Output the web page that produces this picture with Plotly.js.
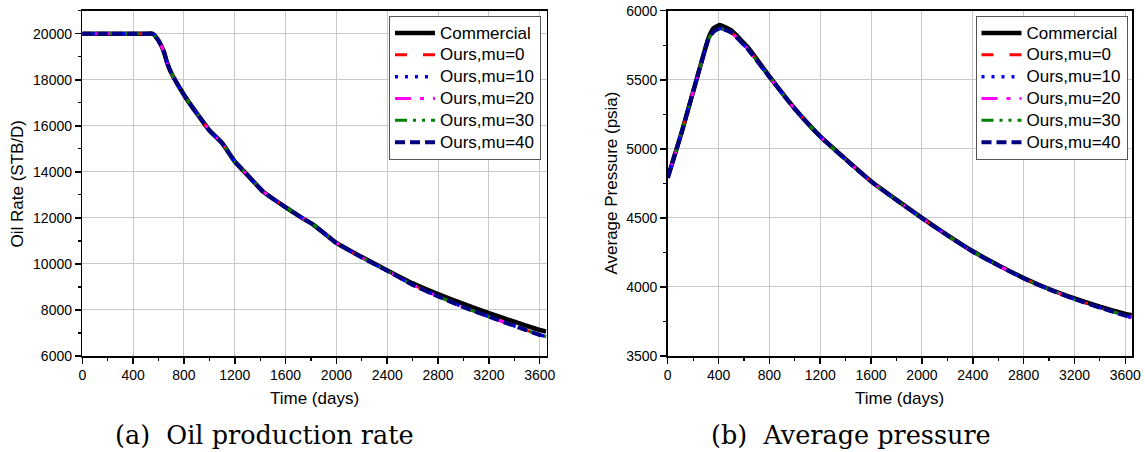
<!DOCTYPE html>
<html>
<head>
<meta charset="utf-8">
<script src="https://cdn.plot.ly/plotly-3.0.1.min.js"></script>
<style>html,body{margin:0;padding:0;background:#fff;}#chart{width:1145px;height:452px;}</style>
</head>
<body>
<div id="chart"></div>
<script>
// ---- Data ----
const rateDays = [0, 100, 200, 300, 400, 500, 555, 600, 640, 670, 700, 750, 835, 920, 1000, 1100, 1200, 1310, 1425, 1595, 1735, 1820, 1990, 2180, 2400, 2600, 2800, 3000, 3200, 3400, 3600, 3650];
const rateCommercial = [20000, 20000, 20000, 20000, 20000, 20000, 20000, 19700, 19250, 18700, 18300, 17800, 17050, 16400, 15800, 15250, 14450, 13800, 13130, 12480, 11980, 11700, 10950, 10360, 9720, 9160, 8690, 8260, 7860, 7490, 7130, 7060];
const rateOurs = [20000, 20000, 20000, 20000, 20000, 20000, 20000, 19700, 19250, 18700, 18300, 17800, 17050, 16400, 15800, 15250, 14450, 13800, 13130, 12480, 11980, 11700, 10950, 10340, 9700, 9090, 8590, 8120, 7710, 7310, 6915, 6840];

const presDays = [0, 110, 240, 320, 360, 410, 500, 630, 800, 1000, 1200, 1400, 1600, 1800, 2000, 2200, 2400, 2600, 2800, 3000, 3200, 3400, 3600, 3650];
const presCommercial = [4790, 5120, 5545, 5800, 5872, 5897, 5857, 5735, 5524, 5290, 5090, 4925, 4765, 4630, 4500, 4375, 4258, 4158, 4065, 3985, 3917, 3857, 3805, 3795];
const presOurs = [4790, 5120, 5545, 5792, 5848, 5872, 5842, 5722, 5520, 5288, 5088, 4922, 4763, 4628, 4498, 4373, 4255, 4155, 4062, 3982, 3912, 3850, 3792, 3778];

const seriesNames = ["Commercial", "Ours,mu=0", "Ours,mu=10", "Ours,mu=20", "Ours,mu=30", "Ours,mu=40"];
const seriesColors = ["#000000", "#ff0000", "#0000ff", "#ff00ff", "#008000", "#000080"];
const seriesDash = ["solid", "12px,16px", "3px,7px", "16px,9px,4px,9px", "12px,6px,3px,6px,3px,6px", "10px,5px"];
const seriesWidth = [4.5, 3, 3.5, 3, 3, 4];
const drawOrder = [0, 1, 3, 4, 2, 5];   // navy on top, blue beneath it, as in the reference

const xTickLabels = ["0","400","800","1200","1600","2000","2400","2800","3200","3600"];

// ---- Build traces ----
const W = 1145, H = 452;
const traces = [];
function addSet(xs, commercial, ours, xa, ya, legendId) {
  drawOrder.forEach(i => {
    traces.push({
      x: xs, y: i === 0 ? commercial : ours,
      type: 'scatter', mode: 'lines',
      name: '<span style="font-size:17px">' + seriesNames[i] + '</span>',
      legendrank: 100 + i,
      xaxis: xa, yaxis: ya, legend: legendId,
      line: {color: seriesColors[i], width: seriesWidth[i], dash: seriesDash[i], shape: 'spline', smoothing: 0.4},
      hoverinfo: 'skip'
    });
  });
}
addSet(rateDays, rateCommercial, rateOurs, 'x', 'y', 'legend');
addSet(presDays, presCommercial, presOurs, 'x2', 'y2', 'legend2');

const font = "Liberation Sans, Arial, sans-serif";
const tickVals = xTickLabels.map(Number);
function xAxis(domain) {
  return {
    domain: domain, range: [0, 3655], tickmode: 'array', tickvals: tickVals, ticktext: xTickLabels,
    ticks: 'outside', ticklen: 6, tickwidth: 1.5, tickcolor: '#000',
    minor: {dtick: 200, tick0: 0, ticks: 'outside', ticklen: 3, tickwidth: 1.2, tickcolor: '#000', showgrid: false},
    showgrid: true, gridcolor: '#c8c8c8', gridwidth: 1,
    showline: true, linecolor: '#000', linewidth: 1.5, mirror: true, zeroline: false,
    tickfont: {family: font, size: 14, color: '#000'}, fixedrange: true
  };
}
function yAxis(range, dtick, minorDtick, anchor) {
  return {
    domain: [1 - 356/H, 1 - 10.7/H], range: range, tick0: range[0], dtick: dtick, anchor: anchor,
    tickformat: 'd',
    ticks: 'outside', ticklen: 6, tickwidth: 1.5, tickcolor: '#000',
    minor: {dtick: minorDtick, ticks: 'outside', ticklen: 3, tickwidth: 1.2, tickcolor: '#000', showgrid: false},
    showgrid: true, gridcolor: '#c8c8c8', gridwidth: 1,
    showline: true, linecolor: '#000', linewidth: 1.5, mirror: true, zeroline: false,
    tickfont: {family: font, size: 14, color: '#000'}, fixedrange: true
  };
}

const xa1 = xAxis([82.3/W, 546.7/W]); xa1.anchor = 'y';
const xa2 = xAxis([667.7/W, 1132.3/W]); xa2.anchor = 'y2';

const legendCommon = {
  bgcolor: '#ffffff', bordercolor: '#555', borderwidth: 1,
  font: {family: font, size: 14.5, color: '#000'},
  xanchor: 'right', yanchor: 'top', y: 1 - 16/H, tracegroupgap: 0, itemwidth: 40,
  traceorder: 'normal'
};

const annFont = {family: font, size: 17, color: '#000'};
const capFont = {family: "DejaVu Serif, serif", size: 25.5, color: '#000'};
const layout = {
  width: W, height: H, autosize: false,
  margin: {l: 0, r: 0, t: 0, b: 0},
  paper_bgcolor: '#fff', plot_bgcolor: '#fff',
  showlegend: true,
  xaxis: xa1, yaxis: yAxis([6000, 21000], 2000, 1000, 'x'),
  xaxis2: xa2, yaxis2: yAxis([3500, 6000], 500, 250, 'x2'),
  legend: Object.assign({x: 541/W}, legendCommon),
  legend2: Object.assign({x: 1127.5/W}, legendCommon),
  annotations: [
    {text: 'Time (days)', x: 314.5/W, y: 1 - 398/H, xref: 'paper', yref: 'paper', xanchor: 'center', yanchor: 'middle', showarrow: false, font: annFont},
    {text: 'Time (days)', x: 900/W, y: 1 - 398/H, xref: 'paper', yref: 'paper', xanchor: 'center', yanchor: 'middle', showarrow: false, font: annFont},
    {text: 'Oil Rate (STB/D)', x: 17/W, y: 1 - 183.5/H, xref: 'paper', yref: 'paper', xanchor: 'center', yanchor: 'middle', textangle: -90, showarrow: false, font: annFont},
    {text: 'Average Pressure (psia)', x: 611/W, y: 1 - 183.5/H, xref: 'paper', yref: 'paper', xanchor: 'center', yanchor: 'middle', textangle: -90, showarrow: false, font: annFont},
    {text: '(a)\u00a0\u00a0Oil production rate', x: 264/W, y: 0.002, xref: 'paper', yref: 'paper', xanchor: 'center', yanchor: 'bottom', showarrow: false, font: capFont, borderpad: 0},
    {text: '(b)\u00a0\u00a0Average pressure', x: 851/W, y: 0.002, xref: 'paper', yref: 'paper', xanchor: 'center', yanchor: 'bottom', showarrow: false, font: capFont, borderpad: 0}
  ]
};

Plotly.newPlot('chart', traces, layout, {staticPlot: true, displayModeBar: false});
</script>
</body>
</html>
